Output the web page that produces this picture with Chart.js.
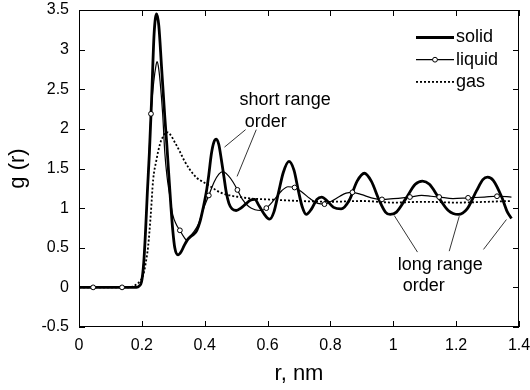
<!DOCTYPE html>
<html>
<head>
<meta charset="utf-8">
<script src="https://cdn.jsdelivr.net/npm/chart.js@4.4.0/dist/chart.umd.min.js"></script>
<style>
  html, body { margin: 0; padding: 0; background: #fff; }
  #wrap { width: 530px; height: 390px; position: relative; }
</style>
</head>
<body>
<div id="wrap"><canvas id="gr"></canvas></div>
<script>
// radial distribution function g(r) – solid / liquid / gas

const solidR = [0, 0.05, 0.1, 0.15, 0.183, 0.192, 0.199, 0.206, 0.212, 0.2175, 0.224, 0.231, 0.239, 0.247, 0.254,
  0.2625, 0.273, 0.2794, 0.2857, 0.292, 0.2984, 0.3048, 0.315, 0.325, 0.335, 0.345, 0.355, 0.365, 0.375, 0.385,
  0.395, 0.405, 0.413, 0.421, 0.429, 0.437, 0.445, 0.453, 0.461, 0.469, 0.477, 0.487, 0.5, 0.515, 0.53, 0.545,
  0.559, 0.573, 0.59, 0.606, 0.62, 0.635, 0.65, 0.668, 0.684, 0.698, 0.71, 0.723, 0.74, 0.757, 0.772, 0.79, 0.81,
  0.834, 0.86, 0.885, 0.908, 0.93, 0.955, 0.975, 0.99, 1.01, 1.04, 1.07, 1.093, 1.115, 1.145, 1.175, 1.207, 1.235,
  1.265, 1.285, 1.3, 1.318, 1.345, 1.362, 1.376];
const solidG = [0, 0, 0, 0, 0, 0.02, 0.07, 0.31, 0.73, 1.2, 1.7, 2.37, 3.2, 3.45, 3.3,
  2.79, 2.15, 1.8, 1.42, 1.05, 0.72, 0.5, 0.41, 0.45, 0.53, 0.6, 0.64, 0.67, 0.72, 0.83,
  1.0, 1.2, 1.42, 1.68, 1.83, 1.87, 1.8, 1.61, 1.4, 1.19, 1.06, 0.99, 0.97, 1.0, 1.05, 1.1,
  1.11, 1.03, 0.92, 0.86, 0.95, 1.2, 1.45, 1.59, 1.48, 1.22, 1.02, 0.92, 0.99, 1.11, 1.14, 1.09, 1.01,
  0.99, 1.1, 1.34, 1.44, 1.34, 1.1, 0.95, 0.92, 0.95, 1.12, 1.3, 1.34, 1.3, 1.13, 0.97, 0.92, 0.99,
  1.22, 1.36, 1.39, 1.35, 1.14, 0.96, 0.87];

const liquidR = [0, 0.045, 0.137, 0.183, 0.199, 0.206, 0.212, 0.22, 0.229, 0.238, 0.245, 0.248, 0.252, 0.258,
  0.266, 0.273, 0.28, 0.289, 0.298, 0.31, 0.321, 0.333, 0.342, 0.352, 0.365, 0.38, 0.395, 0.413, 0.43, 0.445,
  0.458, 0.475, 0.49, 0.504, 0.52, 0.54, 0.56, 0.578, 0.596, 0.62, 0.645, 0.665, 0.686, 0.71, 0.735, 0.76, 0.781,
  0.8, 0.83, 0.85, 0.87, 0.9, 0.93, 0.964, 1.0, 1.053, 1.09, 1.12, 1.146, 1.19, 1.238, 1.29, 1.33, 1.376];
const liquidG = [0, 0, 0, 0, 0.08, 0.33, 0.75, 1.4, 2.19, 2.6, 2.8, 2.85, 2.8, 2.6,
  2.2, 1.7, 1.4, 1.15, 0.92, 0.79, 0.72, 0.64, 0.6, 0.64, 0.7, 0.8, 0.98, 1.16, 1.33, 1.43,
  1.46, 1.41, 1.33, 1.23, 1.11, 1.02, 0.98, 0.97, 1.0, 1.1, 1.22, 1.27, 1.26, 1.2, 1.12, 1.06, 1.05,
  1.08, 1.15, 1.19, 1.2, 1.17, 1.13, 1.11, 1.12, 1.14, 1.16, 1.15, 1.14, 1.12, 1.13, 1.14, 1.15, 1.14];
// r values where the liquid curve carries an open circle
const liquidMarks = [0.045, 0.137, 0.229, 0.321, 0.413, 0.504, 0.596, 0.686, 0.781, 0.87, 0.964, 1.053, 1.146, 1.238, 1.33];

const gasR = [0, 0.1, 0.16, 0.175, 0.19, 0.204, 0.212, 0.22, 0.228, 0.236, 0.246, 0.257, 0.267, 0.278, 0.29,
  0.305, 0.32, 0.335, 0.352, 0.375, 0.395, 0.416, 0.448, 0.48, 0.51, 0.55, 0.6, 0.65, 0.7, 0.8, 0.9, 1.0,
  1.1, 1.2, 1.3, 1.376];
const gasG = [0, 0, 0, 0.02, 0.06, 0.15, 0.3, 0.52, 0.9, 1.36, 1.6, 1.8, 1.9, 1.96, 1.93,
  1.83, 1.72, 1.6, 1.49, 1.38, 1.33, 1.28, 1.2, 1.16, 1.14, 1.12, 1.11, 1.1, 1.09, 1.08, 1.09, 1.07,
  1.08, 1.07, 1.08, 1.09];

const xTicks = [0, 0.2, 0.4, 0.6, 0.8, 1, 1.2, 1.4];
const xTickLabels = ["0", "0.2", "0.4", "0.6", "0.8", "1", "1.2", "1.4"];
const yTicks = [-0.5, 0, 0.5, 1, 1.5, 2, 2.5, 3, 3.5];
const yTickLabels = ["-0.5", "0", "0.5", "1", "1.5", "2", "2.5", "3", "3.5"];

const seriesNames = ["solid", "liquid", "gas"];

const FONT = "'Liberation Sans', Arial, Helvetica, sans-serif";

// annotations, positioned in data units
const notes = [
  { text: [["short range", 0.511, 2.37], ["order", 0.527, 2.09]],
    leaders: [[0.530, 1.99, 0.463, 1.77], [0.564, 1.99, 0.503, 1.40]] },
  { text: [["long range", 1.014, 0.277], ["order", 1.03, 0.016]],
    leaders: [[1.077, 0.445, 1.003, 0.907], [1.178, 0.457, 1.21, 0.898], [1.287, 0.479, 1.36, 0.856]] }
];

function pts(rs, gs) {
  return rs.map((r, i) => ({ x: r, y: gs[i] }));
}

// frame with inward ticks on all four sides
const frameTicks = {
  id: "frameTicks",
  afterDatasetsDraw(chart) {
    const { ctx, chartArea: a, scales } = chart;
    const len = 6;
    ctx.save();
    ctx.strokeStyle = "#000";
    ctx.lineWidth = 1;
    ctx.strokeRect(a.left + 0.5, a.top + 0.5, a.right - a.left - 1, a.bottom - a.top - 1);
    ctx.beginPath();
    xTicks.forEach(v => {
      const x = Math.round(scales.x.getPixelForValue(v)) + 0.5;
      ctx.moveTo(x, a.bottom); ctx.lineTo(x, a.bottom - len);
      ctx.moveTo(x, a.top); ctx.lineTo(x, a.top + len);
    });
    yTicks.forEach(v => {
      const y = Math.round(scales.y.getPixelForValue(v)) + 0.5;
      ctx.moveTo(a.left, y); ctx.lineTo(a.left + len, y);
      ctx.moveTo(a.right, y); ctx.lineTo(a.right - len, y);
    });
    ctx.stroke();
    ctx.restore();
  }
};

// legend in the upper right corner, line sample + name
const cornerLegend = {
  id: "cornerLegend",
  afterDraw(chart) {
    const { ctx, chartArea: a } = chart;
    ctx.save();
    ctx.font = "18px " + FONT;
    ctx.textBaseline = "middle";
    ctx.fillStyle = "#000";
    chart.data.datasets.forEach((ds, i) => {
      const y = a.top + 27.5 + i * 22.2;
      const x0 = a.right - 103, x1 = a.right - 65;
      ctx.strokeStyle = "#000";
      ctx.lineWidth = ds.borderWidth;
      ctx.setLineDash(ds.borderDash || []);
      ctx.beginPath();
      ctx.moveTo(x0, y); ctx.lineTo(x1, y);
      ctx.stroke();
      ctx.setLineDash([]);
      if (i === 1) {
        ctx.beginPath();
        ctx.arc((x0 + x1) / 2, y, 2.4, 0, Math.PI * 2);
        ctx.fillStyle = "#fff"; ctx.fill();
        ctx.lineWidth = 1; ctx.stroke();
        ctx.fillStyle = "#000";
      }
      ctx.fillText(ds.label, x1 + 2, y);
    });
    ctx.restore();
  }
};

const annotations = {
  id: "annotations",
  afterDraw(chart) {
    const { ctx, scales } = chart;
    const px = v => scales.x.getPixelForValue(v);
    const py = v => scales.y.getPixelForValue(v);
    ctx.save();
    ctx.font = "18px " + FONT;
    ctx.textBaseline = "middle";
    ctx.textAlign = "left";
    ctx.fillStyle = "#000";
    ctx.strokeStyle = "#000";
    ctx.lineWidth = 0.8;
    notes.forEach(n => {
      n.text.forEach(t => ctx.fillText(t[0], px(t[1]), py(t[2])));
      ctx.beginPath();
      n.leaders.forEach(l => {
        ctx.moveTo(px(l[0]), py(l[1]));
        ctx.lineTo(px(l[2]), py(l[3]));
      });
      ctx.stroke();
    });
    ctx.restore();
  }
};

new Chart(document.getElementById("gr"), {
  type: "line",
  data: {
    datasets: [
      {
        label: seriesNames[0],
        data: pts(solidR, solidG),
        borderColor: "#000",
        borderWidth: 2.8,
        pointRadius: 0,
        cubicInterpolationMode: "monotone",
        order: 1
      },
      {
        label: seriesNames[1],
        data: pts(liquidR, liquidG),
        borderColor: "#000",
        borderWidth: 1.2,
        pointRadius: ctx => liquidMarks.includes(liquidR[ctx.dataIndex]) ? 2.4 : 0,
        pointBackgroundColor: "#fff",
        pointBorderColor: "#000",
        pointBorderWidth: 1,
        cubicInterpolationMode: "monotone",
        order: 0
      },
      {
        label: seriesNames[2],
        data: pts(gasR, gasG),
        borderColor: "#000",
        borderWidth: 1.8,
        borderDash: [2, 2],
        pointRadius: 0,
        cubicInterpolationMode: "monotone",
        order: 2
      }
    ]
  },
  options: {
    responsive: true,
    maintainAspectRatio: false,
    animation: false,
    layout: { padding: { top: 10, right: 0, left: 0, bottom: 0 } },
    scales: {
      x: {
        type: "linear",
        min: 0,
        max: 1.4,
        afterFit: s => { s.height = 63; s.paddingLeft = 0; s.paddingRight = 11; },
        afterBuildTicks: s => { s.ticks = xTicks.map(v => ({ value: v })); },
        grid: { display: false, drawTicks: false },
        border: { display: false },
        ticks: {
          padding: 9,
          color: "#000",
          font: { family: FONT, size: 16 },
          maxRotation: 0,
          callback: (v, i) => xTickLabels[i]
        },
        title: {
          display: true,
          text: "r, nm",
          color: "#000",
          font: { family: FONT, size: 22 },
          padding: { top: 0, bottom: 3 }
        }
      },
      y: {
        min: -0.5,
        max: 3.5,
        afterFit: s => { s.width = 79; s.paddingTop = 0; s.paddingBottom = 0; },
        afterBuildTicks: s => { s.ticks = yTicks.map(v => ({ value: v })); },
        grid: { display: false, drawTicks: false },
        border: { display: false },
        ticks: {
          padding: 10,
          color: "#000",
          font: { family: FONT, size: 16 },
          callback: (v, i) => yTickLabels[i]
        },
        title: {
          display: true,
          text: "g (r)",
          color: "#000",
          font: { family: FONT, size: 22 },
          padding: { top: 5, bottom: 0 }
        }
      }
    },
    plugins: {
      legend: { display: false },
      tooltip: { enabled: false }
    }
  },
  plugins: [frameTicks, cornerLegend, annotations]
});
</script>
</body>
</html>
